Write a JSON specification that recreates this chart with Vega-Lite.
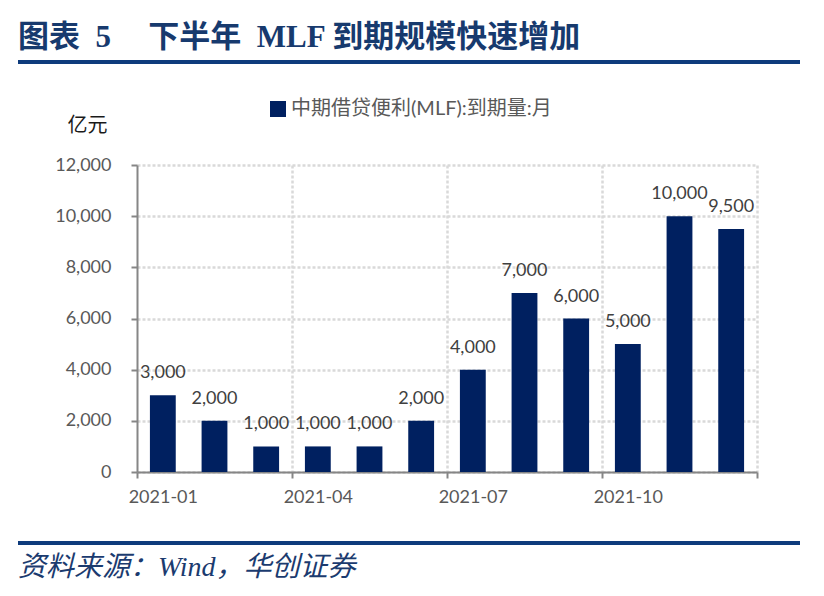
{
  "$schema": "https://vega.github.io/schema/vega-lite/v6.json",
  "padding": {"left": 18, "top": 22, "right": 6, "bottom": 6},
  "spacing": 35,
  "resolve": {"legend": {"color": "independent"}},
  "vconcat": [
    {
      "width": 782,
      "height": 4,
      "data": {"values": []},
      "mark": "point",
      "view": {"fill": "#0e3b7c", "stroke": null},
      "title": {
        "text": "图表\u20025\u3000\u2009下半年\u2002MLF 到期规模快速增加",
        "anchor": "start",
        "font": "Liberation Serif, Noto Sans CJK SC",
        "fontSize": 31,
        "fontWeight": "bold",
        "color": "#173a6e",
        "offset": 6
      }
    },
    {
      "width": 782,
      "height": 307,
      "data": {
        "values": [
          {"month": "2021-01", "value": 3000, "series": "中期借贷便利(MLF):到期量:月"},
          {"month": "2021-02", "value": 2000, "series": "中期借贷便利(MLF):到期量:月"},
          {"month": "2021-03", "value": 1000, "series": "中期借贷便利(MLF):到期量:月"},
          {"month": "2021-04", "value": 1000, "series": "中期借贷便利(MLF):到期量:月"},
          {"month": "2021-05", "value": 1000, "series": "中期借贷便利(MLF):到期量:月"},
          {"month": "2021-06", "value": 2000, "series": "中期借贷便利(MLF):到期量:月"},
          {"month": "2021-07", "value": 4000, "series": "中期借贷便利(MLF):到期量:月"},
          {"month": "2021-08", "value": 7000, "series": "中期借贷便利(MLF):到期量:月"},
          {"month": "2021-09", "value": 6000, "series": "中期借贷便利(MLF):到期量:月"},
          {"month": "2021-10", "value": 5000, "series": "中期借贷便利(MLF):到期量:月"},
          {"month": "2021-11", "value": 10000, "series": "中期借贷便利(MLF):到期量:月"},
          {"month": "2021-12", "value": 9500, "series": "中期借贷便利(MLF):到期量:月"}
        ]
      },
      "encoding": {
        "x": {
          "field": "month",
          "type": "ordinal",
          "scale": {"range": [119, 739], "paddingInner": 0, "paddingOuter": 0},
          "axis": {
            "title": null,
            "labelAngle": 0,
            "labelOverlap": false,
            "labelPadding": 10,
            "grid": true,
            "tickBand": "extent",
            "labelExpr": "indexof(['2021-01','2021-04','2021-07','2021-10'], datum.value) >= 0 ? datum.label : ''",
            "tickOpacity": {
              "condition": {"test": "datum.index < 0 || indexof(['2021-03','2021-06','2021-09','2021-12'], datum.value) >= 0", "value": 1},
              "value": 0
            },
            "gridOpacity": {
              "condition": {"test": "indexof(['2021-03','2021-06','2021-09','2021-12'], datum.value) >= 0", "value": 1},
              "value": 0
            }
          }
        },
        "y": {
          "field": "value",
          "type": "quantitative",
          "scale": {"domain": [0, 12000], "nice": false},
          "axis": {
            "values": [0, 2000, 4000, 6000, 8000, 10000, 12000],
            "format": ",.0f",
            "offset": -119,
            "labelPadding": 20,
            "title": "亿元",
            "titleAngle": 0,
            "titleAlign": "center",
            "titleBaseline": "middle",
            "titleX": -50,
            "titleY": -40,
            "titleFont": "Noto Sans CJK SC",
            "titleFontSize": 20,
            "titleFontWeight": "normal",
            "titleColor": "#1a1a1a"
          }
        }
      },
      "layer": [
        {
          "mark": {"type": "bar", "width": {"band": 0.5}},
          "encoding": {
            "color": {
              "field": "series",
              "type": "nominal",
              "scale": {"range": ["#002060"]},
              "legend": {
                "title": null,
                "orient": "none",
                "legendX": 250,
                "legendY": -66,
                "direction": "horizontal",
                "padding": 0,
                "symbolType": "square",
                "symbolSize": 256,
                "symbolStrokeWidth": 0,
                "labelOffset": 3,
                "labelFont": "Lato, Noto Sans CJK SC",
                "labelFontSize": 20,
                "labelColor": "#595959",
                "labelLimit": 400
              }
            }
          }
        },
        {
          "mark": {"type": "text", "baseline": "alphabetic", "dy": -17, "font": "Lato", "fontSize": 18, "color": "#404040"},
          "encoding": {
            "text": {"field": "value", "type": "quantitative", "format": ",.0f"}
          }
        }
      ]
    },
    {
      "width": 782,
      "height": 4,
      "data": {"values": []},
      "mark": "point",
      "view": {"fill": "#0e3b7c", "stroke": null},
      "title": {
        "text": "资料来源：Wind，华创证券",
        "orient": "bottom",
        "anchor": "start",
        "font": "Liberation Serif, Noto Sans CJK SC",
        "fontSize": 28,
        "fontStyle": "italic",
        "fontWeight": "normal",
        "color": "#1b3b6f",
        "offset": 9
      }
    }
  ],
  "config": {
    "view": {"stroke": null},
    "axis": {
      "labelFont": "Lato",
      "labelFontSize": 18,
      "labelColor": "#595959",
      "domainColor": "#868686",
      "domainWidth": 2,
      "tickColor": "#868686",
      "tickWidth": 2,
      "tickSize": 6,
      "gridColor": "#d9d9d9",
      "gridDash": [3, 2],
      "gridWidth": 2.5
    }
  }
}
